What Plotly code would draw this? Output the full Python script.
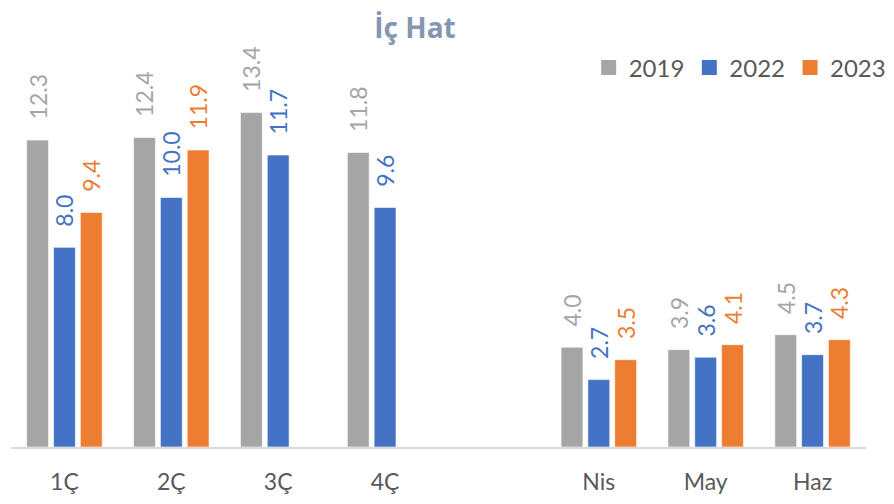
import plotly.graph_objects as go

categories = ["1Ç", "2Ç", "3Ç", "4Ç", " ", "Nis", "May", "Haz"]
s2019 = [12.3, 12.4, 13.4, 11.8, None, 4.0, 3.9, 4.5]
s2022 = [8.0, 10.0, 11.7, 9.6, None, 2.7, 3.6, 3.7]
s2023 = [9.4, 11.9, None, None, None, 3.5, 4.1, 4.3]
series_names = ["2019", "2022", "2023"]
colors = ["#A5A5A5", "#4472C4", "#ED7D31"]

FONT = "Lato"
NB = "\u00a0"
fig = go.Figure()
for name, vals, col in zip(series_names, [s2019, s2022, s2023], colors):
    fig.add_trace(go.Bar(
        x=categories, y=vals, name=name, showlegend=False, legendgroup=name,
        marker=dict(color=col, line=dict(color="rgba(255,255,255,0.6)", width=1)),
        texttemplate=NB * 3 + "%{y:.1f}", textposition="outside", textangle=-90,
        constraintext="none",
        textfont=dict(family=FONT, size=23, color=col),
        cliponaxis=False,
    ))
# legend entries with larger square swatches
for name, col in zip(series_names, colors):
    fig.add_trace(go.Scatter(
        x=[None], y=[None], mode="markers", name=name, legendgroup=name,
        marker=dict(symbol="square", size=15, color=col),
    ))

# page body has an 8px offset; figure is sized to fill the rest of the window
W, H = 886, 496
plot_top, plot_bottom = 32, 438.7
fig.update_layout(
    width=W, height=H,
    paper_bgcolor="white", plot_bgcolor="white",
    margin=dict(l=2.5, r=22.6, t=plot_top, b=H - plot_bottom),
    barmode="group", bargap=0.247, bargroupgap=0.185,
    title=dict(text="<b>İç Hat</b>", x=407 / W, xanchor="center", y=1 - 20 / H, yanchor="middle",
               font=dict(family="Open Sans", size=28, color="#8497B0")),
    legend=dict(orientation="h", x=1.03, xanchor="right",
                y=(plot_bottom - 60) / (plot_bottom - plot_top), yanchor="middle",
                font=dict(family=FONT, size=24, color="#595959"),
                bgcolor="rgba(0,0,0,0)", traceorder="normal", itemwidth=30,
                itemsizing="trace"),
    showlegend=True,
    xaxis=dict(showline=True, linecolor="#D9D9D9", linewidth=1.5, ticks="", showgrid=False,
               tickfont=dict(family=FONT, size=23, color="#595959"), zeroline=False,
               ticklabelstandoff=14),
    yaxis=dict(range=[0, 16.31], visible=False, showgrid=False, zeroline=False),
)
fig.write_html("out.html")
